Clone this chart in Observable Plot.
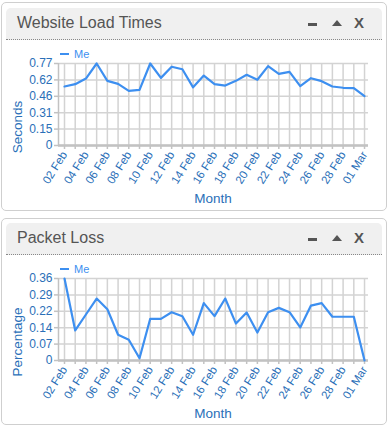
<!DOCTYPE html>
<html><head><meta charset="utf-8">
<script src="https://cdn.jsdelivr.net/npm/d3@7"></script>
<script src="https://cdn.jsdelivr.net/npm/@observablehq/plot@0.6"></script>
<style>
body{margin:0;width:389px;height:427px;background:#fff;position:relative;overflow:hidden;font-family:'Liberation Sans',Arial,sans-serif;}
.panel{position:absolute;left:1px;width:386px;border:1px solid #cfcfcf;border-radius:5px;background:#fff;box-sizing:border-box;}
.head{position:absolute;left:4px;right:4px;height:32px;background:#f0f0f0;border-radius:5px 5px 0 0;border-bottom:1px dotted #888;box-sizing:border-box;}
.title{position:absolute;left:11px;top:6px;font-size:16px;color:#555;}
.minus{position:absolute;left:302px;top:15px;width:9px;height:3px;background:#555;}
.tri{position:absolute;left:326px;top:12px;width:0;height:0;border-left:5px solid transparent;border-right:5px solid transparent;border-bottom:6px solid #555;}
.x{position:absolute;left:348px;top:6px;font-size:15px;font-weight:bold;color:#555;}
.legend{position:absolute;left:60px;font-size:11px;color:#3d8ff0;}
.legend span{display:inline-block;width:9px;height:2px;background:#3d8ff0;vertical-align:middle;margin-right:5px;position:relative;top:-1px;}
.ylab{position:absolute;font-size:13.5px;color:#2a6fb8;transform:translate(-50%,-50%) rotate(-90deg);white-space:nowrap;}
.xlab{position:absolute;font-size:13.5px;color:#2a6fb8;transform:translate(-50%,-50%);white-space:nowrap;}
.chart{position:absolute;left:0;}
</style>
</head><body>
<script>
const days = ["2020-02-02","2020-02-03","2020-02-04","2020-02-05","2020-02-06","2020-02-07","2020-02-08","2020-02-09","2020-02-10","2020-02-11","2020-02-12","2020-02-13","2020-02-14","2020-02-15","2020-02-16","2020-02-17","2020-02-18","2020-02-19","2020-02-20","2020-02-21","2020-02-22","2020-02-23","2020-02-24","2020-02-25","2020-02-26","2020-02-27","2020-02-28","2020-02-29","2020-03-01"];
const labelDays = ["2020-02-02","2020-02-04","2020-02-06","2020-02-08","2020-02-10","2020-02-12","2020-02-14","2020-02-16","2020-02-18","2020-02-20","2020-02-22","2020-02-24","2020-02-26","2020-02-28","2020-03-01"];
const loadTimes = [0.554,0.576,0.629,0.77,0.607,0.579,0.513,0.523,0.77,0.635,0.739,0.716,0.546,0.657,0.576,0.563,0.607,0.664,0.617,0.745,0.673,0.692,0.557,0.632,0.604,0.554,0.542,0.538,0.463];
const packetLoss = [0.36,0.132,0.202,0.272,0.225,0.113,0.091,0.01,0.183,0.183,0.212,0.194,0.113,0.252,0.195,0.272,0.162,0.211,0.123,0.212,0.231,0.212,0.145,0.241,0.252,0.192,0.192,0.192,0];
const loadTicks = [0,0.154,0.308,0.462,0.616,0.77];
const lossTicks = [0,0.072,0.144,0.216,0.288,0.36];
const seriesName = "Me";
const xTitle = "Month";

const BLUE = "#3d8ff0", TXT = "#2a6fb8", GRID = "#d3d3d3", AX = "#c2c2c2";
const parse = d3.utcParse("%Y-%m-%d");
const dayDates = days.map(parse);
const labelDates = labelDays.map(parse);
const DAY = 864e5;
const xDomain = [new Date(+dayDates[0] - 0.56*DAY), new Date(+dayDates[dayDates.length-1] + 0.37*DAY)];
const yFmt = d => d === 0 ? "0" : d3.format(".2f")(d);

function chart(values, yTicks) {
  const data = dayDates.map((d,i) => ({date:d, value:values[i]}));
  return Plot.plot({
    width:389, height:170, marginLeft:58, marginRight:21, marginTop:23, marginBottom:65,
    style:{fontFamily:"'Liberation Sans',Arial,sans-serif", background:"transparent", overflow:"visible"},
    x:{type:"utc", domain:xDomain},
    y:{domain:[0, yTicks[yTicks.length-1]]},
    marks:[
      Plot.gridX(dayDates, {stroke:GRID, strokeOpacity:1, strokeWidth:1.5}),
      Plot.gridY(yTicks, {stroke:GRID, strokeOpacity:1, strokeWidth:1.5}),
      Plot.ruleX([xDomain[0]], {stroke:AX, strokeWidth:1.5}),
      Plot.ruleY([0], {stroke:AX, strokeWidth:2.5}),
      Plot.axisX(dayDates, {tickSize:4, tickFormat:()=>"", stroke:AX, strokeWidth:1.5, label:null}),
      Plot.axisX(labelDates, {tickSize:0, tickPadding:7, tickRotate:-58, tickFormat:d3.utcFormat("%d %b"), fill:TXT, fontSize:11.5, label:null}),
      Plot.axisY(yTicks, {tickSize:4, tickFormat:()=>"", stroke:AX, strokeWidth:1.5, label:null}),
      Plot.axisY(yTicks, {tickSize:0, tickPadding:6, tickFormat:yFmt, fill:TXT, fontSize:12, label:null}),
      Plot.lineY(data, {x:"date", y:"value", stroke:BLUE, strokeWidth:2.2})
    ]
  });
}

function panel(top, height, headTop, title, yTitle, values, yTicks) {
  const p = document.createElement("div");
  p.className = "panel"; p.style.top = top+"px"; p.style.height = height+"px";
  p.innerHTML = `<div class="head" style="top:${headTop}px"><div class="title">${title}</div><div class="minus"></div><div class="tri"></div><div class="x">X</div></div>`;
  document.body.appendChild(p);
  const chartTop = top + headTop + 33;
  const c = chart(values, yTicks);
  c.classList.add("chart"); c.style.top = chartTop+"px";
  document.body.appendChild(c);
  const lg = document.createElement("div");
  lg.className = "legend"; lg.style.top = (chartTop+8)+"px";
  lg.innerHTML = `<span></span>${seriesName}`;
  document.body.appendChild(lg);
  const yl = document.createElement("div");
  yl.className = "ylab"; yl.textContent = yTitle;
  yl.style.left = "17px"; yl.style.top = (chartTop+87)+"px";
  document.body.appendChild(yl);
  const xl = document.createElement("div");
  xl.className = "xlab"; xl.textContent = xTitle;
  xl.style.left = "213px"; xl.style.top = (chartTop+158)+"px";
  document.body.appendChild(xl);
}

panel(2, 209, 5, "Website Load Times", "Seconds", loadTimes, loadTicks);
panel(218, 207, 4, "Packet Loss", "Percentage", packetLoss, lossTicks);
</script>
</body></html>
